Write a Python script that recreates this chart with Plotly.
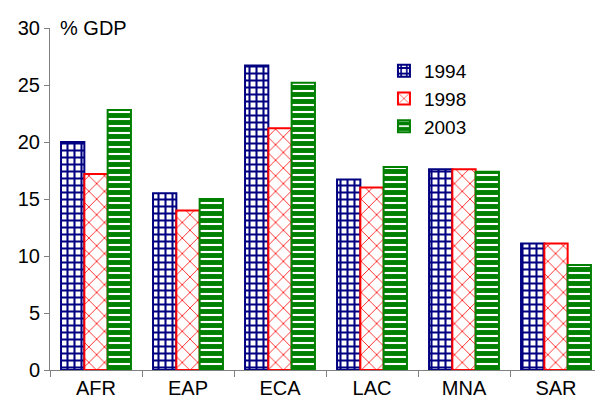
import plotly.graph_objects as go

categories = ["AFR", "EAP", "ECA", "LAC", "MNA", "SAR"]
years = ["1994", "1998", "2003"]
v1994 = [20.0, 15.5, 26.7, 16.7, 17.6, 11.1]
v1998 = [17.2, 14.0, 21.2, 16.0, 17.6, 11.1]
v2003 = [22.8, 15.0, 25.2, 17.8, 17.4, 9.2]
y_ticks = [0, 5, 10, 15, 20, 25, 30]

styles = [
    dict(color="#000080", shape="+", size=7, solidity=0.5),
    dict(color="#ff0000", shape="x", size=11, solidity=0.14),
    dict(color="#008000", shape="-", size=7, solidity=0.7),
]

fig = go.Figure()
for name, vals, st in zip(years, [v1994, v1998, v2003], styles):
    fig.add_trace(go.Bar(
        x=categories, y=vals, name=name,
        marker=dict(
            color=st["color"],
            line=dict(color=st["color"], width=2),
            pattern=dict(shape=st["shape"], fgcolor=st["color"], fgopacity=1,
                         bgcolor="white", size=st["size"], solidity=st["solidity"],
                         fillmode="replace"),
        ),
    ))

fig.update_layout(
    width=603, height=411,
    margin=dict(l=42, r=9, t=14, b=49),
    paper_bgcolor="white", plot_bgcolor="white",
    barmode="group", bargap=0.24, bargroupgap=0,
    font=dict(family="Liberation Sans, Arial", size=20, color="black"),
    legend=dict(x=0.605, y=0.93, xanchor="left", yanchor="top",
                bgcolor="rgba(0,0,0,0)", font=dict(size=19),
                itemwidth=30, tracegroupgap=0),
    showlegend=True,
)
fig.update_yaxes(range=[0, 30], tickvals=y_ticks, ticks="outside", ticklen=5,
                 tickcolor="#808080", showline=True, linecolor="#808080", linewidth=1,
                 showgrid=False, zeroline=False, tickfont=dict(size=20))
fig.update_xaxes(ticks="outside", tickson="boundaries", ticklen=6, tickcolor="#808080",
                 showline=True, linecolor="#808080", linewidth=1, showgrid=False,
                 tickfont=dict(size=20))
fig.add_annotation(text="% GDP", xref="paper", yref="paper", x=0.015, y=1.0,
                   xanchor="left", yanchor="middle", showarrow=False, font=dict(size=20))

fig.write_html("out.html")
